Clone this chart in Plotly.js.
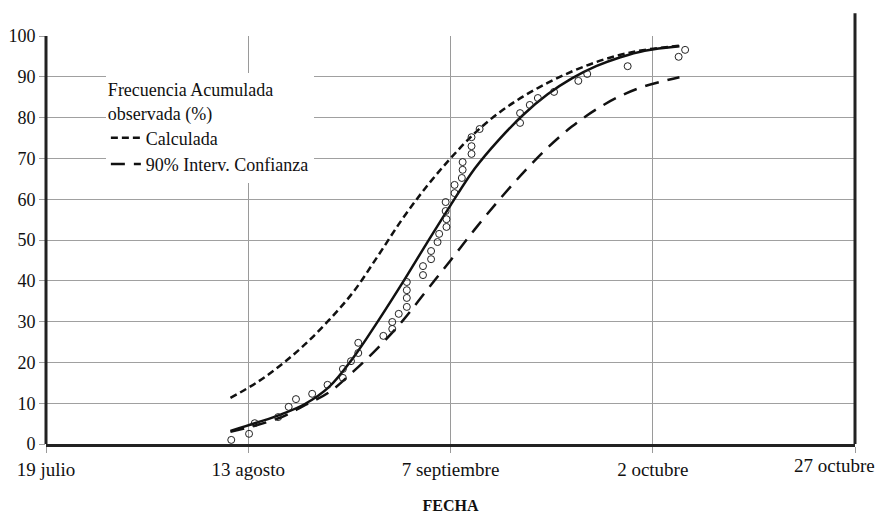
<!DOCTYPE html>
<html>
<head>
<meta charset="utf-8">
<script src="https://cdn.plot.ly/plotly-3.0.1.min.js"></script>
<style>html,body{margin:0;padding:0;background:#fff;}#chart{width:877px;height:514px;}</style>
</head>
<body>
<div id="chart"></div>
<script>
// X values: days counted from 19 julio
const fechaTicks = [0, 25, 50, 75, 100];
const fechaLabels = ['19 julio', '13 agosto', '7 septiembre', '2 octubre', '27 octubre'];
const frecTicks = [0, 10, 20, 30, 40, 50, 60, 70, 80, 90, 100];

// Observed cumulative frequency (%)
const obsDia = [22.9,25.1,25.8,28.7,30.0,30.9,32.9,34.8,36.7,36.7,37.7,38.6,38.6,41.7,42.8,42.8,43.6,44.6,44.6,44.6,44.6,46.6,46.6,47.6,47.6,48.4,48.6,49.5,49.5,49.4,49.4,50.5,50.5,51.4,51.5,51.5,52.6,52.6,52.6,53.6,58.6,58.6,59.8,60.8,62.8,65.8,66.9,71.9,78.2,79.0];
const obsFrec = [1.0,2.5,5.1,6.6,9.1,11.0,12.3,14.5,16.2,18.4,20.3,22.3,24.8,26.5,28.2,29.9,31.9,33.6,35.8,37.7,39.7,41.4,43.6,45.3,47.3,49.5,51.5,53.2,55.1,57.1,59.3,61.5,63.5,65.2,67.2,69.1,71.1,73.0,75.2,77.2,78.7,81.1,83.1,84.8,86.3,89.0,90.7,92.6,94.9,96.6];

// Curves, read at regular days
const curvaDia = [22.8,26,29,32,35,38,41,44,47,50,53,56,59,62,65,68,71,74,78.3];
// Solid fitted curve
const ajusteFrec = [3.2,5.2,7.2,9.8,14.0,21.2,30.0,39.3,49.0,58.5,67.5,74.6,80.7,85.7,89.6,92.6,94.8,96.4,97.5];
// Short-dash curve (Calculada)
const calcFrec = [11.3,15.0,19.3,24.4,30.4,37.3,46.0,55.0,63.0,70.0,76.2,81.2,85.2,88.5,91.3,93.6,95.4,96.6,97.6];
// Long-dash curve (90% Interv. Confianza)
const confFrec = [3.0,4.6,6.5,9.5,12.7,17.8,23.5,30.0,37.5,45.0,52.6,59.8,66.5,72.6,77.8,82.0,85.3,87.7,89.9];

const serif = 'Liberation Serif, Times New Roman, serif';

const traces = [
  {x: curvaDia, y: ajusteFrec, mode: 'lines', type: 'scatter', showlegend: false,
   line: {color: '#111', width: 2.5, shape: 'spline', smoothing: 1}, hoverinfo: 'skip'},
  {x: curvaDia, y: calcFrec, mode: 'lines', type: 'scatter', name: 'Calculada', legendgroup: 'a',
   line: {color: '#111', width: 2.5, dash: '7px,4px', shape: 'spline', smoothing: 1}},
  {x: curvaDia, y: confFrec, mode: 'lines', type: 'scatter', name: '90% Interv. Confianza', legendgroup: 'b',
   line: {color: '#111', width: 2.5, dash: '14px,9px', shape: 'spline', smoothing: 1}},
  {x: obsDia, y: obsFrec, mode: 'markers', type: 'scatter', showlegend: false,
   marker: {symbol: 'circle-open', size: 7, color: '#222', line: {width: 1, color: '#222'}}}
];

const layout = {
  width: 877, height: 514,
  margin: {l: 46, r: 22, t: 36, b: 70},
  paper_bgcolor: '#fff', plot_bgcolor: '#fff',
  font: {family: serif, color: '#111'},
  xaxis: {
    range: [0, 100], tickmode: 'array', tickvals: fechaTicks,
    ticktext: fechaLabels.slice(0, -1).concat(['']),
    showgrid: true, gridcolor: '#9a9a9a', gridwidth: 1, zeroline: false,
    ticks: 'outside', ticklen: 6, tickcolor: '#9a9a9a', tickwidth: 1,
    showline: true, linecolor: '#222', linewidth: 3,
    tickfont: {family: serif, size: 19, color: '#111'},
    title: {text: '<b>FECHA</b>', font: {family: serif, size: 16, color: '#111'}, standoff: 30}
  },
  yaxis: {
    range: [0, 100], tickmode: 'array', tickvals: frecTicks,
    showgrid: true, gridcolor: '#a0a0a0', gridwidth: 1, zeroline: false,
    ticks: 'outside', ticklen: 6, tickcolor: '#a0a0a0', tickwidth: 1,
    showline: false,
    tickfont: {family: serif, size: 18, color: '#111'}
  },
  legend: {
    x: 0.074, y: 0.91, xanchor: 'left', yanchor: 'top',
    bgcolor: '#fff', borderwidth: 0, tracegroupgap: 6,
    font: {family: serif, size: 18, color: '#111'},
    title: {text: 'Frecuencia Acumulada<br>observada (%)', font: {family: serif, size: 18, color: '#111'}},
    traceorder: 'normal'
  },
  annotations: [
    {xref: 'paper', yref: 'paper', x: 1.027, y: 0, xanchor: 'right', yanchor: 'top', yshift: -9,
     text: fechaLabels[fechaLabels.length - 1], showarrow: false,
     font: {family: serif, size: 19, color: '#111'}}
  ],
  shapes: [
    {type: 'line', xref: 'paper', yref: 'y', x0: 0, x1: 0, y0: -1, y1: 100,
     line: {color: '#222', width: 3}},
    {type: 'line', xref: 'paper', yref: 'paper', x0: 1, x1: 1, y0: 0, y1: 1.056,
     line: {color: '#222', width: 3}}
  ]
};

Plotly.newPlot('chart', traces, layout, {displayModeBar: false, staticPlot: true});
</script>
</body>
</html>
